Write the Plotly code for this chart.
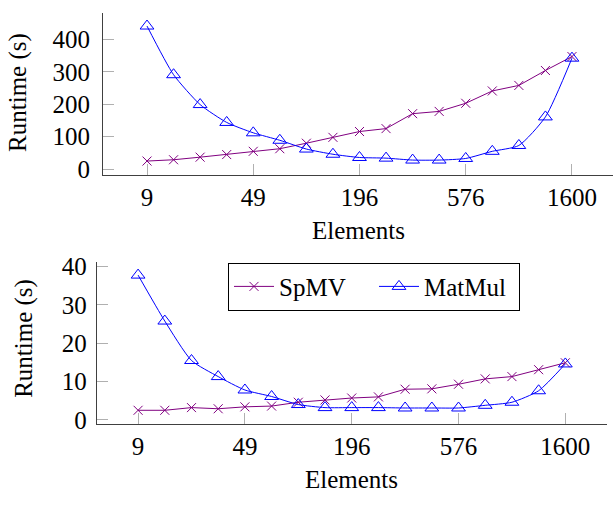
import plotly.graph_objects as go

elements_idx = list(range(17))
tick_idx = [0, 4, 8, 12, 16]
tick_labels = ["9", "49", "196", "576", "1600"]

spmv_top = [25, 29, 37, 45, 55, 63, 80, 98, 116, 125, 171, 178, 203, 241, 258, 304, 347]
matmul_top = [441, 291, 199, 144, 112, 89, 62, 46, 36, 34, 28, 28, 33, 55, 73, 161, 342]

spmv_bot = [2.5, 2.5, 3.2, 2.9, 3.4, 3.6, 4.6, 5.2, 5.7, 6.0, 8.0, 8.1, 9.3, 10.7, 11.3, 13.1, 14.9]
matmul_bot = [37.8, 25.8, 15.5, 11.3, 7.8, 6.1, 4.0, 3.2, 3.2, 3.2, 3.1, 3.1, 3.1, 3.8, 4.6, 7.6, 14.6]

W, H = 613, 506
PURPLE = "#800080"
BLUE = "#0000ff"
FONT = "Liberation Serif"
FS = 25

fig = go.Figure()

def add(x, y, name, color, symbol, size, xa, ya, show, spline):
    fig.add_trace(go.Scatter(
        x=x, y=y, name=name, mode="lines+markers",
        line=dict(color=color, width=1, shape="spline" if spline else "linear",
                  smoothing=0.6 if spline else None),
        marker=dict(symbol=symbol, size=size, color=color,
                    line=dict(color=color, width=1)),
        xaxis=xa, yaxis=ya, showlegend=show,
    ))

add(elements_idx, spmv_top, "SpMV", PURPLE, "x-thin", 9, "x", "y", False, False)
add(elements_idx, matmul_top, "MatMul", BLUE, "triangle-up-open", 12, "x", "y", False, True)
add(elements_idx, spmv_bot, "SpMV", PURPLE, "x-thin", 9, "x2", "y2", True, False)
add(elements_idx, matmul_bot, "MatMul", BLUE, "triangle-up-open", 12, "x2", "y2", True, True)

tfont = dict(family=FONT, size=FS, color="black")
common_x = dict(tickvals=tick_idx, ticktext=tick_labels, ticks="inside", ticklen=11,
                tickcolor="#b0b0b0", showline=True, linecolor="#404040", linewidth=1,
                showgrid=False, zeroline=False, tickfont=tfont)
common_y = dict(ticks="inside", ticklen=11, tickcolor="#b0b0b0", showline=True,
                linecolor="#404040", linewidth=1, showgrid=False, zeroline=False,
                tickfont=tfont)

def ann(text, x, y, angle=0):
    return dict(text=text, x=x / W, y=1 - y / H, xref="paper", yref="paper",
                xanchor="center", yanchor="middle", textangle=angle,
                showarrow=False, font=tfont)

fig.update_layout(
    width=W, height=H, autosize=False,
    margin=dict(l=0, r=0, t=0, b=0),
    paper_bgcolor="white", plot_bgcolor="white",
    xaxis=dict(domain=[103 / W, 1.0], range=[-1.657, 17.545], anchor="y", **common_x),
    yaxis=dict(domain=[1 - 172 / H, 1 - 4 / H], range=[-17.6, 481.6], anchor="x",
               tickvals=[0, 100, 200, 300, 400], ticklabelstandoff=7, **common_y),
    xaxis2=dict(domain=[96.7 / W, 607 / W], range=[-1.55, 17.56], anchor="y2", **common_x),
    yaxis2=dict(domain=[1 - 430.3 / H, 1 - 262.7 / H], range=[-1.08, 41.13], anchor="x2",
                tickvals=[0, 10, 20, 30, 40], ticklabelstandoff=4, **common_y),
    legend=dict(x=228 / W, y=1 - 263 / H, xanchor="left", yanchor="top",
                orientation="h", bordercolor="black", borderwidth=1, bgcolor="white",
                font=tfont, itemwidth=40, entrywidth=90),
    annotations=[
        ann("Elements", 358, 230),
        ann("Elements", 352, 488),
        ann("Runtime (s)", 18, 87, -90),
        ann("Runtime (s)", 24, 342, -90),
    ],
)

fig.write_html("out.html")
